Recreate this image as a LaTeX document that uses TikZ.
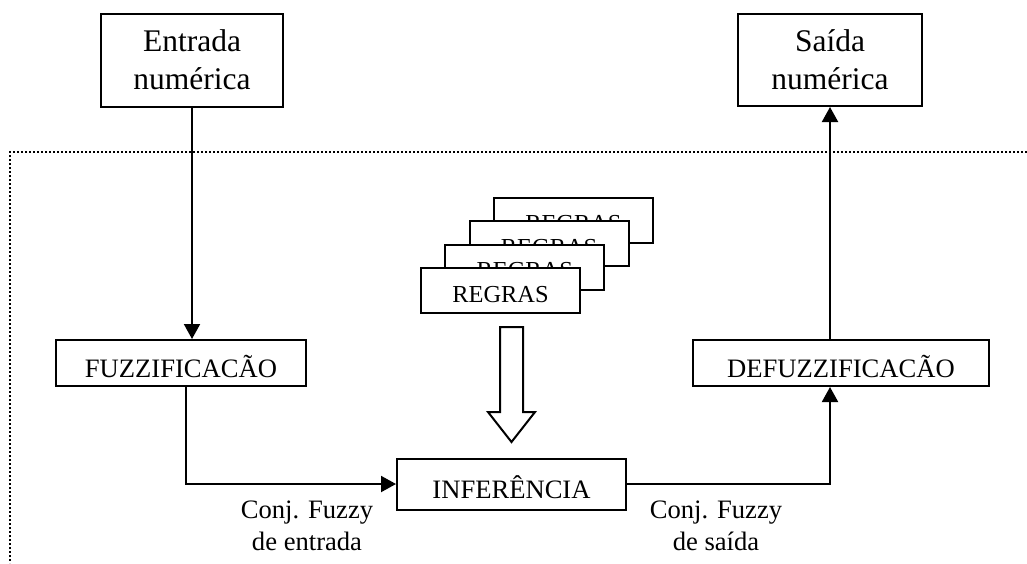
\documentclass[tikz,border=0pt]{standalone}
\usepackage{fontspec}
\setmainfont{Liberation Serif}
\usetikzlibrary{arrows.meta}

\begin{document}
\begin{tikzpicture}[x=1pt,y=-1pt,
  caixa/.style={draw,line width=2pt,fill=white,inner sep=0pt,align=center},
  uma/.style={text height=#1,text depth=0pt},
  seta/.style={line width=2pt,-{Triangle[length=15pt,width=16pt]}},
  linha/.style={line width=2pt},
  rotulo/.style={align=center,font=\fontsize{26.6}{32}\selectfont}]
\useasboundingbox (0,0) rectangle (1027,563);
% moldura pontilhada
\draw[line width=2pt,dash pattern=on 2pt off 2pt] (1027,152) -- (10,152) -- (10,563);

\node[caixa,minimum width=182pt,minimum height=93pt,font=\fontsize{31.5}{38}\selectfont] (entrada) at (192,60) {Entrada\\numérica};
\node[caixa,minimum width=184pt,minimum height=92pt,font=\fontsize{31.5}{38}\selectfont] (saida) at (830,60) {Saída\\numérica};

\node[caixa,uma=28pt,minimum width=250pt,minimum height=46pt,font=\fontsize{26.6}{32}\selectfont] (fuzz) at (181,363) {FUZZIFICACÃO};
\node[caixa,uma=28pt,minimum width=296pt,minimum height=46pt,font=\fontsize{26.6}{32}\selectfont] (defuzz) at (841,363) {DEFUZZIFICACÃO};
\node[caixa,uma=28pt,minimum width=229pt,minimum height=51pt,font=\fontsize{26.6}{32}\selectfont] (infer) at (511.5,484) {INFERÊNCIA};

% pilha de regras
\foreach \i in {3,2,1,0}
  \node[caixa,uma=23pt,minimum width=159pt,minimum height=45pt,font=\fontsize{24.4}{29}\selectfont] (regras\i) at (500.5+24.3*\i,290.5-23.5*\i) {REGRAS};

% seta vazada
\draw[linha,line join=miter] (500,327) -- (523,327) -- (523,412) -- (535,412) -- (511.5,442) -- (488,412) -- (500,412) -- cycle;

\draw[seta] (entrada.south) -- (entrada.south |- fuzz.north);
\draw[seta] ([xshift=5pt]fuzz.south) |- (infer.west);
\draw[seta] (infer.east) -| (saida.south |- defuzz.south);
\draw[seta] (saida.south |- defuzz.north) -- (saida.south);

\node[rotulo] (conjent) at (307,526) {Conj. Fuzzy\\de entrada};
\node[rotulo] (conjsai) at (716,526) {Conj. Fuzzy\\de saída};
\end{tikzpicture}
\end{document}
